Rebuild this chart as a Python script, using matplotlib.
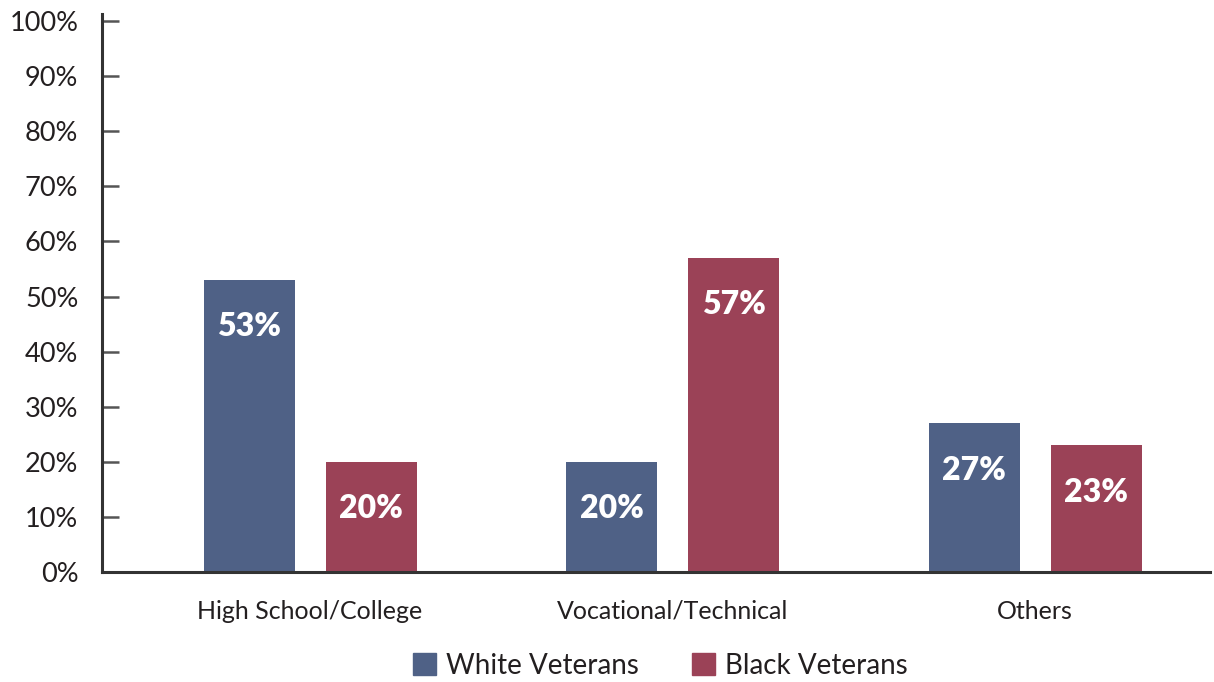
import matplotlib.pyplot as plt
from matplotlib.patches import Patch

categories = ["High School/College", "Vocational/Technical", "Others"]
white_vals = [53, 20, 27]
black_vals = [20, 57, 23]
series_names = ["White Veterans", "Black Veterans"]
y_ticks = [0, 10, 20, 30, 40, 50, 60, 70, 80, 90, 100]

BLUE = "#4F6186"
RED = "#9B4257"
INK = "#231F20"

plt.rcParams['font.family'] = ['Lato', 'DejaVu Sans']

fig = plt.figure(figsize=(12.14, 6.82), dpi=100)
ax = fig.add_axes([0.084, 0.1613, 0.913, 0.8182])

x = list(range(len(categories)))
off = 0.168
w = 0.251
xb = [i - off for i in x]
xr = [i + off for i in x]
ax.bar(xb, white_vals, width=w, color=BLUE)
ax.bar(xr, black_vals, width=w, color=RED)

for xs, vals in ((xb, white_vals), (xr, black_vals)):
    for xi, v in zip(xs, vals):
        ax.text(xi, v - 8.5, f"{v}%", ha="center", va="center",
                color="white", fontsize=23, fontweight="heavy")

ax.set_xlim(-0.574, 2.483)
ax.set_ylim(0, 101.3)
ax.set_yticks(y_ticks)
ax.set_yticklabels([f"{t}%" for t in y_ticks], fontsize=19.5, color=INK)
ax.set_xticks(x)
ax.set_xticklabels(categories, fontsize=18, color=INK)

ax.tick_params(axis="y", direction="in", length=12, width=1.8, color="#555555", pad=17)
ax.tick_params(axis="x", length=0, pad=20)

for s in ("top", "right"):
    ax.spines[s].set_visible(False)
for s in ("left", "bottom"):
    ax.spines[s].set_linewidth(2.2)
    ax.spines[s].set_color("#333333")

# legend row along the bottom edge
handles = [Patch(color=BLUE), Patch(color=RED)]
fig.legend(handles, series_names, loc="center", bbox_to_anchor=(0.544, 0.024),
           ncol=2, frameon=False, fontsize=20, handlelength=0.85, handleheight=0.85,
           handletextpad=0.35, columnspacing=1.9, labelcolor=INK, borderpad=0.1)

fig.savefig("out.png", dpi=100)
